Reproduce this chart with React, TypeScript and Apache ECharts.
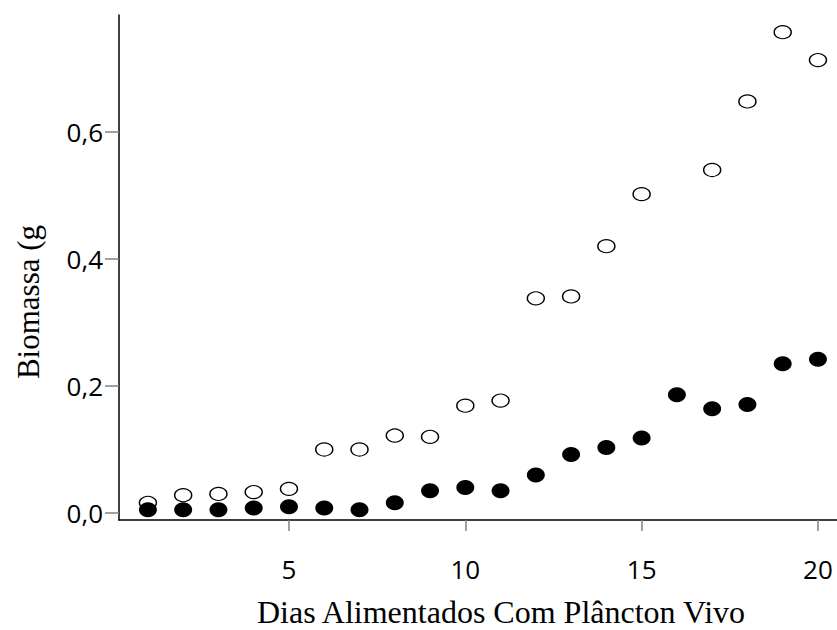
import React, { useEffect, useRef } from "react";
import * as echarts from "echarts";

const days = [1, 2, 3, 4, 5, 6, 7, 8, 9, 10, 11, 12, 13, 14, 15, 16, 17, 18, 19, 20];
const openValues: (number | null)[] = [0.016, 0.028, 0.03, 0.033, 0.038, 0.1, 0.1, 0.122, 0.12, 0.169, 0.177, 0.338, 0.341, 0.42, 0.502, null, 0.54, 0.648, 0.757, 0.713];
const filledValues = [0.005, 0.005, 0.005, 0.008, 0.01, 0.008, 0.005, 0.016, 0.035, 0.04, 0.035, 0.06, 0.092, 0.103, 0.118, 0.186, 0.164, 0.171, 0.235, 0.242];
const xTicks = [5, 10, 15, 20];
const yTicks = [0, 0.2, 0.4, 0.6];
const xName = "Dias Alimentados Com Plâncton Vivo";
const yName = "Biomassa (g";

export default function App() {
  const ref = useRef<HTMLDivElement>(null);
  useEffect(() => {
    if (!ref.current) return;
    const chart = echarts.init(ref.current, null, { renderer: "svg" });
    const openData = days
      .map((d, i) => [d, openValues[i]])
      .filter((p) => p[1] !== null);
    const filledData = days.map((d, i) => [d, filledValues[i]]);
    chart.setOption({
      animation: false,
      backgroundColor: "#ffffff",
      grid: { left: 119, right: 0, top: 15, bottom: 110, containLabel: false },
      xAxis: {
        type: "value",
        min: 0.18,
        max: 20.54,
        axisLine: { onZero: false, lineStyle: { color: "#000", width: 1.5 } },
        axisTick: { show: true, customValues: xTicks, length: 11, inside: false, lineStyle: { color: "#808080", width: 1.5 } },
        axisLabel: {
          customValues: xTicks,
          margin: 36,
          color: "#000",
          fontFamily: "Open Sans",
          fontSize: 26,
        },
        splitLine: { show: false },
      },
      yAxis: {
        type: "value",
        min: -0.011,
        max: 0.784,
        axisLine: { show: true, onZero: false, lineStyle: { color: "#000", width: 1.5 } },
        axisTick: { show: true, customValues: yTicks, length: 14, lineStyle: { color: "#808080", width: 1.5 } },
        axisLabel: {
          customValues: yTicks,
          margin: 16,
          color: "#000",
          fontFamily: "Open Sans",
          fontSize: 26,
          formatter: (v: number) => v.toFixed(1).replace(".", ","),
        },
        splitLine: { show: false },
      },
      graphic: [
        {
          type: "text",
          x: 501,
          y: 612,
          style: {
            text: xName,
            fontFamily: "Liberation Serif",
            fontSize: 32,
            fill: "#000",
            align: "center",
            verticalAlign: "middle",
          },
        },
        {
          type: "text",
          x: 28,
          y: 302,
          rotation: Math.PI / 2,
          style: {
            text: yName,
            fontFamily: "Liberation Serif",
            fontSize: 31,
            fill: "#000",
            align: "center",
            verticalAlign: "middle",
          },
        },
      ],
      series: [
        {
          type: "scatter",
          data: openData,
          symbol: "circle",
          symbolSize: [17, 13],
          itemStyle: { color: "#ffffff", borderColor: "#000", borderWidth: 1.3, opacity: 1 },
        },
        {
          type: "scatter",
          data: filledData,
          symbol: "circle",
          symbolSize: [18, 15],
          itemStyle: { color: "#000000", opacity: 1 },
        },
      ],
    });
    return () => chart.dispose();
  }, []);
  return <div ref={ref} style={{ width: 837, height: 630, position: "absolute", left: 0, top: 0 }} />;
}
